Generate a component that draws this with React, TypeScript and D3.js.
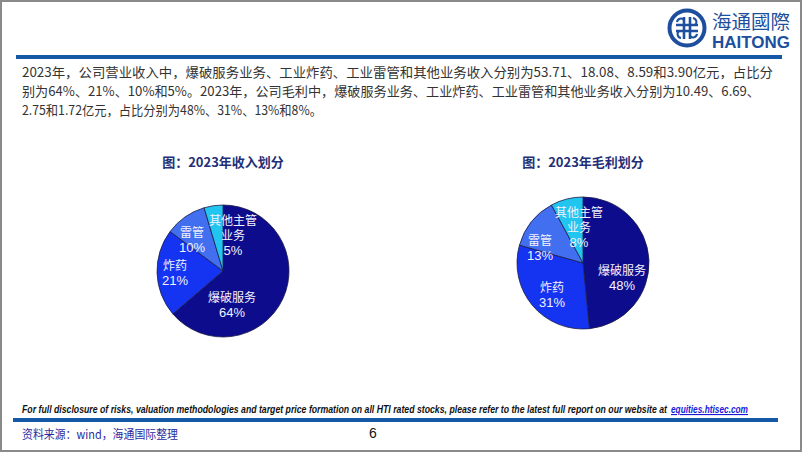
import * as d3 from 'd3';

// ── Data ──────────────────────────────────────────────────────────────────────
const SEGMENTS = ['爆破服务', '炸药', '雷管', '其他主管业务'];
const REVENUE = [53.71, 18.08, 8.59, 3.9]; // 亿元
const GROSS_PROFIT = [10.49, 6.69, 2.75, 1.72]; // 亿元
const REVENUE_PCT = ['64%', '21%', '10%', '5%'];
const PROFIT_PCT = ['48%', '31%', '13%', '8%'];
const LABEL_LINES = [['爆破服务'], ['炸药'], ['雷管'], ['其他主管', '业务']];

const BODY_LINES = [
  '2023年，公司营业收入中，爆破服务业务、工业炸药、工业雷管和其他业务收入分别为53.71、18.08、8.59和3.90亿元，占比分',
  '别为64%、21%、10%和5%。2023年，公司毛利中，爆破服务业务、工业炸药、工业雷管和其他业务收入分别为10.49、6.69、',
  '2.75和1.72亿元，占比分别为48%、31%、13%和8%。',
];

// ── Layout ────────────────────────────────────────────────────────────────────
const W = 802;
const H = 452;
const R = 66;
const LINE_H = 15;

const COLORS = ['#0c0c8c', '#1534f2', '#416ff0', '#22c4f0'];
const NAVY = '#1f2f78';
const CJK = '"Noto Sans CJK SC", sans-serif';
const LATIN = '"Liberation Sans", Arial, "Noto Sans CJK SC", sans-serif';

// label block centres, relative to the pie centre
const REV_LABEL_OFF: [number, number][] = [[9, 34], [-48, 2], [-31, -31], [10, -36]];
const GP_LABEL_OFF: [number, number][] = [[39, 15], [-31, 32], [-43, -15], [-4, -36]];

const BODY_WIDTHS = [751, 738, 300];

function Pie({ cx, cy, values, pcts, title, offsets }: {
  cx: number; cy: number; values: number[]; pcts: string[]; title: string;
  offsets: [number, number][];
}) {
  const pie = d3.pie<number>().sort(null).value(d => d);
  const arc = d3.arc<d3.PieArcDatum<number>>().innerRadius(0).outerRadius(R);
  const arcs = pie(values);
  return (
    <g>
      <text x={cx} y={167} textAnchor="middle" fontSize={13} fontWeight={700}
        fill={NAVY} fontFamily={CJK}>{title}</text>
      <g transform={`translate(${cx},${cy})`}>
        {arcs.map((a, i) => (
          <path key={SEGMENTS[i]} d={arc(a) ?? ''} fill={COLORS[i]}
            stroke="#1c1c48" strokeWidth={0.8} />
        ))}
        {arcs.map((a, i) => {
          const lines = [...LABEL_LINES[i], pcts[i]];
          const [ox, oy] = offsets[i];
          const top = oy - ((lines.length - 1) * LINE_H) / 2;
          return (
            <text key={i} textAnchor="middle" fill="#f2f2ff" fontSize={12}>
              {lines.map((l, j) => (
                <tspan key={j} x={ox} y={top + j * LINE_H + 4.5}
                  fontFamily={j === lines.length - 1 ? LATIN : CJK}
                  fontSize={j === lines.length - 1 ? 13 : 12}>{l}</tspan>
              ))}
            </text>
          );
        })}
      </g>
    </g>
  );
}

function Logo() {
  return (
    <g>
      <g transform="translate(687,28)" stroke="#1d4f9e" fill="none">
        <circle r={17.5} strokeWidth={4} />
        <path d="M-11,-3 H11 M-11,3 H11 M-3,-11 V11 M3,-11 V11" strokeWidth={2.6} />
        <path d="M-3,-8 a4,4 0 0 0 -7,2 M3,8 a4,4 0 0 0 7,-2 M8,-3 a4,4 0 0 0 -2,-7 M-8,3 a4,4 0 0 0 2,7"
          strokeWidth={2} />
      </g>
      <text x={712} y={29} fontSize={19} fill="#1d4f9e" fontFamily={CJK}
        textLength={78} lengthAdjust="spacingAndGlyphs">海通國際</text>
      <text x={712} y={48} fontSize={17} fontWeight={700} fill="#1d4f9e"
        fontFamily={LATIN} textLength={78} lengthAdjust="spacingAndGlyphs">HAITONG</text>
    </g>
  );
}

export default function App() {
  return (
    <div style={{ position: 'absolute', left: 0, top: 0 }}>
      <svg width={W} height={H} viewBox={`0 0 ${W} ${H}`} style={{ display: 'block' }}>
        <rect x={0} y={0} width={W} height={H} fill="#fff" />
        <rect x={1} y={1} width={W - 2} height={H - 2} fill="none" stroke="#8a8a8a" strokeWidth={2} />

        <Logo />
        <rect x={16} y={55} width={766} height={4} fill="#1458a6" />

        {BODY_LINES.map((l, i) => (
          <text key={i} x={22} y={76.5 + i * 19} fontSize={13} fill="#333"
            fontFamily={CJK} textLength={BODY_WIDTHS[i]} lengthAdjust="spacingAndGlyphs">{l}</text>
        ))}

        <Pie cx={223} cy={271} values={REVENUE} pcts={REVENUE_PCT}
          title="图：2023年收入划分" offsets={REV_LABEL_OFF} />
        <Pie cx={583} cy={263} values={GROSS_PROFIT} pcts={PROFIT_PCT}
          title="图：2023年毛利划分" offsets={GP_LABEL_OFF} />

        <text x={22} y={413} fontSize={11} fontWeight={700} fontStyle="italic"
          fill="#111" fontFamily={LATIN} textLength={645} lengthAdjust="spacingAndGlyphs">
          For full disclosure of risks, valuation methodologies and target price formation on all HTI rated stocks, please refer to the latest full report on our website at
        </text>
        <text x={671} y={413} fontSize={11} fontWeight={700} fontStyle="italic"
          fill="#1a1ad8" fontFamily={LATIN} textLength={77} lengthAdjust="spacingAndGlyphs"
          textDecoration="underline">equities.htisec.com</text>

        <rect x={13} y={418} width={765} height={4} fill="#1458a6" />

        <text x={22} y={439} fontSize={12} fill="#2b2ba0" fontFamily={CJK}
          textLength={156} lengthAdjust="spacingAndGlyphs">资料来源：wind，海通国际整理</text>
        <text x={373} y={438} textAnchor="middle" fontSize={14} fill="#111"
          fontFamily={LATIN}>6</text>
      </svg>
    </div>
  );
}
